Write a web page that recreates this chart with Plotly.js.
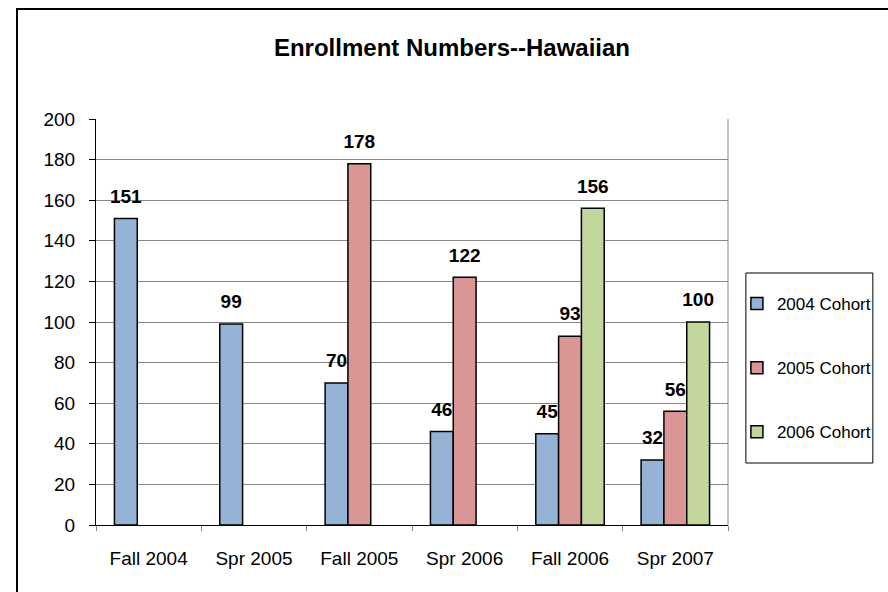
<!DOCTYPE html>
<html>
<head>
<meta charset="utf-8">
<script src="https://cdn.plot.ly/plotly-3.0.1.min.js"></script>
<style>
  html, body { margin: 0; padding: 0; background: #fff; overflow: hidden; }
  #wrap { position: relative; width: 888px; height: 592px; overflow: hidden; }
  #chart { position: absolute; left: 0; top: 0; width: 888px; height: 592px; }
  #frame { position: absolute; left: 16px; top: 8px; width: 900px; height: 620px; border: 2px solid #000; pointer-events: none; }
</style>
</head>
<body>
<div id="wrap">
  <div id="chart"></div>
  <div id="frame"></div>
</div>
<script>
const categories = ["Fall 2004", "Spr 2005", "Fall 2005", "Spr 2006", "Fall 2006", "Spr 2007"];
const cohort2004 = [151, 99, 70, 46, 45, 32];
const cohort2005 = [null, null, 178, 122, 93, 56];
const cohort2006 = [null, null, null, null, 156, 100];
const seriesNames = ["2004 Cohort", "2005 Cohort", "2006 Cohort"];
const seriesColors = ["#95B3D7", "#D99694", "#C3D69B"];
const yTicks = [0, 20, 40, 60, 80, 100, 120, 140, 160, 180, 200];

const seriesValues = [cohort2004, cohort2005, cohort2006];
const FONT = "Liberation Sans, Arial, sans-serif";

const barTraces = seriesValues.map((vals, i) => ({
  type: "bar",
  name: seriesNames[i],
  legendgroup: "g" + i,
  x: categories,
  y: vals,
  marker: { color: seriesColors[i], line: { color: "#000", width: 1.5 } },
  hoverinfo: "skip"
}));

const labelTraces = seriesValues.map((vals, i) => ({
  type: "scatter",
  mode: "markers+text",
  showlegend: false,
  legendgroup: "g" + i,
  x: categories,
  y: vals,
  text: vals.map(v => v == null ? "" : String(v)),
  texttemplate: "<b>%{text}</b>",
  textposition: "top center",
  textfont: { family: FONT, size: 19, color: "#000" },
  marker: { size: 16, opacity: 0 },
  cliponaxis: false,
  hoverinfo: "skip"
}));

const layout = {
  width: 888, height: 592,
  margin: { l: 96, r: 155, t: 119, b: 67 },
  paper_bgcolor: "rgba(0,0,0,0)",
  plot_bgcolor: "#fff",
  barmode: "group",
  scattermode: "group",
  bargap: 0.35,
  bargroupgap: 0,
  scattergap: 0.35,
  font: { family: FONT, size: 19, color: "#000" },
  title: {
    text: "<b>Enrollment Numbers--Hawaiian</b>",
    font: { size: 24, color: "#000" },
    x: 0.509, xref: "container", xanchor: "center",
    y: 0.919, yref: "container", yanchor: "middle"
  },
  xaxis: {
    type: "category",
    showgrid: false,
    showline: true, linecolor: "#000", linewidth: 1,
    ticks: "outside", tickson: "boundaries", ticklen: 5, tickcolor: "#888",
    tickfont: { size: 19 },
    ticklabelstandoff: 16,
    automargin: false
  },
  yaxis: {
    range: [0, 200],
    tickvals: yTicks,
    showgrid: true, gridcolor: "#868686", gridwidth: 1,
    zeroline: false,
    showline: true, linecolor: "#000", linewidth: 1,
    ticks: "outside", ticklen: 6, tickcolor: "#000",
    tickfont: { size: 19 },
    ticklabelstandoff: 10,
    automargin: false
  },
  shapes: [
    { type: "line", xref: "paper", yref: "paper", x0: 1, x1: 1, y0: 0, y1: 1, line: { color: "#868686", width: 1 } },
    { type: "rect", xref: "paper", yref: "paper", x0: 1.0283, x1: 1.2292, y0: 0.1527, y1: 0.6207, line: { color: "#000", width: 1 }, fillcolor: "rgba(0,0,0,0)" }
  ],
  showlegend: true,
  legend: {
    x: 1.0141, xanchor: "left",
    y: 0.5887, yanchor: "top",
    borderwidth: 0,
    bgcolor: "rgba(0,0,0,0)",
    font: { size: 17 },
    tracegroupgap: 39,
    itemwidth: 30,
    traceorder: "grouped"
  }
};

Plotly.newPlot("chart", barTraces.concat(labelTraces), layout, { displayModeBar: false, staticPlot: true });
</script>
</body>
</html>
